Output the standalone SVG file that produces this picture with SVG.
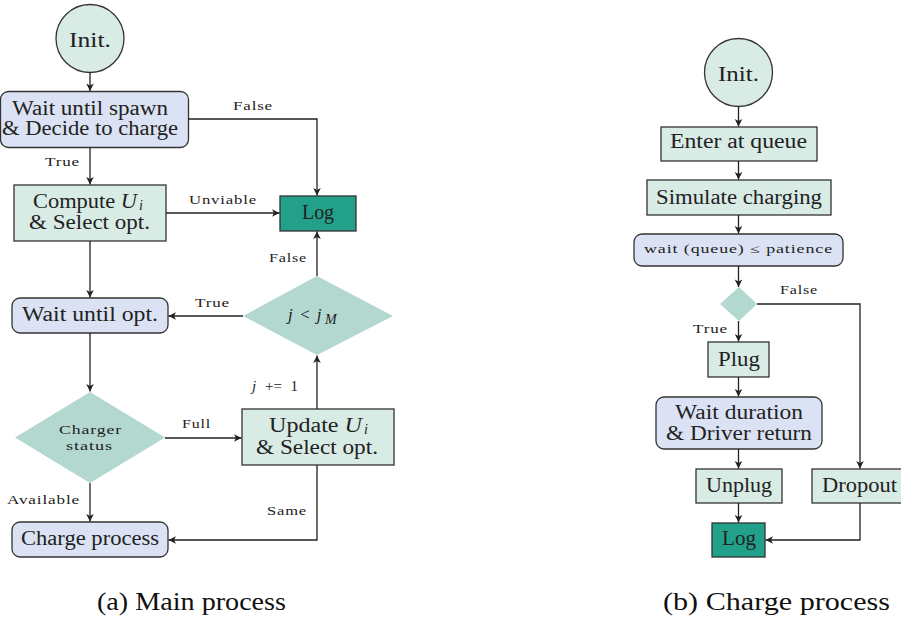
<svg xmlns="http://www.w3.org/2000/svg" width="901" height="619" viewBox="0 0 901 619">
  <defs>
    <marker id="arr" markerWidth="10" markerHeight="10" refX="0" refY="0" viewBox="-8 -5 10 10" orient="auto" markerUnits="userSpaceOnUse">
      <path d="M0,0 L-7.5,-3.8 L-5.5,0 L-7.5,3.8 Z" fill="#222"/>
    </marker>
    <style>
      .proc { fill: #d8ebe5; stroke: #333; stroke-width: 1.3; }
      .wait { fill: #dbe2f3; stroke: #333; stroke-width: 1.3; }
      .log  { fill: #22a08a; stroke: #333; stroke-width: 1.3; }
      .dec  { fill: #b3d8cf; stroke: none; }
      .edge { fill: none; stroke: #222; stroke-width: 1.3; marker-end: url(#arr); }
      text { font-family: "Liberation Serif", "DejaVu Serif", serif; fill: #222; }
      .t  { font-size: 20px; }
      .s  { font-size: 12px; letter-spacing: 0.6px; }
      .it { font-style: italic; }
      .sub { font-size: 14px; font-style: italic; }
      .cap { font-size: 25px; fill: #111; }
      .mid { text-anchor: middle; }
    </style>
  </defs>

  <!-- (a) main process -->
  <g id="a-init">
    <circle cx="90" cy="38.5" r="34" class="proc"/>
    <text class="t mid" x="90" y="47" textLength="42" lengthAdjust="spacingAndGlyphs">Init.</text>
  </g>
  <g id="a-spawn">
    <rect x="0.5" y="91.5" width="188" height="56" rx="8" class="wait"/>
    <text class="t" x="12" y="115" textLength="156" lengthAdjust="spacingAndGlyphs">Wait until spawn</text>
    <text class="t" x="2" y="135" textLength="176" lengthAdjust="spacingAndGlyphs">&amp; Decide to charge</text>
  </g>
  <g id="a-compute">
    <rect x="14" y="185" width="152" height="56" class="proc"/>
    <text class="t" x="33" y="208" textLength="104" lengthAdjust="spacingAndGlyphs">Compute <tspan class="it">U</tspan></text>
    <text class="sub" x="139" y="210">i</text>
    <text class="t" x="29" y="229" textLength="121" lengthAdjust="spacingAndGlyphs">&amp; Select opt.</text>
  </g>
  <g id="a-log">
    <rect x="280" y="196" width="76" height="35" class="log"/>
    <text class="t mid" x="318" y="219" textLength="32" lengthAdjust="spacingAndGlyphs">Log</text>
  </g>
  <g id="a-waitopt">
    <rect x="12" y="298" width="156" height="35" rx="8" class="wait"/>
    <text class="t" x="22" y="321" textLength="136" lengthAdjust="spacingAndGlyphs">Wait until opt.</text>
  </g>
  <g id="a-jcheck">
    <polygon points="317,276 393,316 317,355 243,316" class="dec"/>
    <text class="it" x="288" y="320" font-size="17" word-spacing="2">j &lt; j</text>
    <text class="it" x="325" y="324" font-size="14">M</text>
  </g>
  <g id="a-charger">
    <polygon points="90,392 165,437.5 90,483 15,437.5" class="dec"/>
    <text class="s mid" x="90.5" y="434" textLength="63" lengthAdjust="spacingAndGlyphs">Charger</text>
    <text class="s mid" x="89.5" y="450" textLength="47" lengthAdjust="spacingAndGlyphs">status</text>
  </g>
  <g id="a-update">
    <rect x="242" y="409" width="152" height="56" class="proc"/>
    <text class="t" x="269" y="432" textLength="93" lengthAdjust="spacingAndGlyphs">Update <tspan class="it">U</tspan></text>
    <text class="sub" x="364" y="434">i</text>
    <text class="t" x="256" y="454" textLength="122" lengthAdjust="spacingAndGlyphs">&amp; Select opt.</text>
  </g>
  <g id="a-charge">
    <rect x="12" y="522" width="156" height="35" rx="8" class="wait"/>
    <text class="t" x="21" y="545" textLength="138" lengthAdjust="spacingAndGlyphs">Charge process</text>
  </g>

  <g id="a-edges">
    <path class="edge" d="M90,72.5 V91"/>
    <path class="edge" d="M90,147.5 V184.5"/>
    <path class="edge" d="M188.5,119 H317 V195.5"/>
    <path class="edge" d="M166,213 H279.5"/>
    <path class="edge" d="M90,241 V297.5"/>
    <path class="edge" d="M317,276 V231.5"/>
    <path class="edge" d="M243,316 H168.5"/>
    <path class="edge" d="M90,333 V391.5"/>
    <path class="edge" d="M165,438 H241.5"/>
    <path class="edge" d="M317,409 V355.5"/>
    <path class="edge" d="M90,483 V521.5"/>
    <path class="edge" d="M317,465 V540 H168.5"/>
  </g>
  <g id="a-labels">
    <text class="s" x="233" y="110" textLength="40" lengthAdjust="spacingAndGlyphs">False</text>
    <text class="s" x="45" y="166" textLength="35" lengthAdjust="spacingAndGlyphs">True</text>
    <text class="s" x="189" y="204" textLength="68" lengthAdjust="spacingAndGlyphs">Unviable</text>
    <text class="s" x="269" y="262" textLength="38" lengthAdjust="spacingAndGlyphs">False</text>
    <text class="s" x="195" y="307" textLength="35" lengthAdjust="spacingAndGlyphs">True</text>
    <text x="252" y="391" font-size="15" word-spacing="5"><tspan class="it">j</tspan> += 1</text>
    <text class="s" x="182" y="428" textLength="29" lengthAdjust="spacingAndGlyphs">Full</text>
    <text class="s" x="7" y="504" textLength="73" lengthAdjust="spacingAndGlyphs">Available</text>
    <text class="s" x="267" y="515" textLength="40" lengthAdjust="spacingAndGlyphs">Same</text>
  </g>

  <!-- (b) charge process -->
  <g id="b-init">
    <circle cx="738.5" cy="72.5" r="34" class="proc"/>
    <text class="t mid" x="738.5" y="81" textLength="41" lengthAdjust="spacingAndGlyphs">Init.</text>
  </g>
  <g id="b-enter">
    <rect x="661" y="127" width="156" height="34" class="proc"/>
    <text class="t" x="670" y="148" textLength="137" lengthAdjust="spacingAndGlyphs">Enter at queue</text>
  </g>
  <g id="b-simulate">
    <rect x="647" y="180" width="184" height="35" class="proc"/>
    <text class="t" x="656" y="204" textLength="166" lengthAdjust="spacingAndGlyphs">Simulate charging</text>
  </g>
  <g id="b-patience">
    <rect x="634" y="234" width="209" height="32" rx="8" class="wait"/>
    <text class="s" x="644" y="253" textLength="189" lengthAdjust="spacingAndGlyphs">wait (queue) ≤ patience</text>
  </g>
  <g id="b-check">
    <polygon points="739,287 757,304 739,321 720,304" class="dec"/>
  </g>
  <g id="b-plug">
    <rect x="708" y="342" width="61" height="35" class="proc"/>
    <text class="t" x="718" y="366" textLength="42" lengthAdjust="spacingAndGlyphs">Plug</text>
  </g>
  <g id="b-duration">
    <rect x="656" y="397" width="166" height="52" rx="8" class="wait"/>
    <text class="t" x="675" y="419" textLength="128" lengthAdjust="spacingAndGlyphs">Wait duration</text>
    <text class="t" x="666" y="440" textLength="146" lengthAdjust="spacingAndGlyphs">&amp; Driver return</text>
  </g>
  <g id="b-unplug">
    <rect x="696" y="469" width="86" height="34" class="proc"/>
    <text class="t" x="706" y="492" textLength="66" lengthAdjust="spacingAndGlyphs">Unplug</text>
  </g>
  <g id="b-dropout">
    <rect x="812" y="469" width="90" height="34" class="proc"/>
    <text class="t" x="822" y="492" textLength="75" lengthAdjust="spacingAndGlyphs">Dropout</text>
  </g>
  <g id="b-log">
    <rect x="712" y="523" width="53" height="34" class="log"/>
    <text class="t mid" x="739" y="545" textLength="34" lengthAdjust="spacingAndGlyphs">Log</text>
  </g>

  <g id="b-edges">
    <path class="edge" d="M738.5,106.5 V126.5"/>
    <path class="edge" d="M738.5,161 V179.5"/>
    <path class="edge" d="M738.5,215 V233.5"/>
    <path class="edge" d="M738.5,266 V287"/>
    <path class="edge" d="M757,304 H860 V468.5"/>
    <path class="edge" d="M738.5,321 V341.5"/>
    <path class="edge" d="M738.5,377 V396.5"/>
    <path class="edge" d="M738.5,449 V468.5"/>
    <path class="edge" d="M738.5,503 V522.5"/>
    <path class="edge" d="M860,503 V540 H765.5"/>
  </g>
  <g id="b-labels">
    <text class="s" x="780" y="294" textLength="38" lengthAdjust="spacingAndGlyphs">False</text>
    <text class="s" x="693" y="333" textLength="35" lengthAdjust="spacingAndGlyphs">True</text>
  </g>

  <g id="captions">
    <text class="cap" x="97" y="610" textLength="189" lengthAdjust="spacingAndGlyphs">(a) Main process</text>
    <text class="cap" x="663" y="610" textLength="227" lengthAdjust="spacingAndGlyphs">(b) Charge process</text>
  </g>
</svg>
